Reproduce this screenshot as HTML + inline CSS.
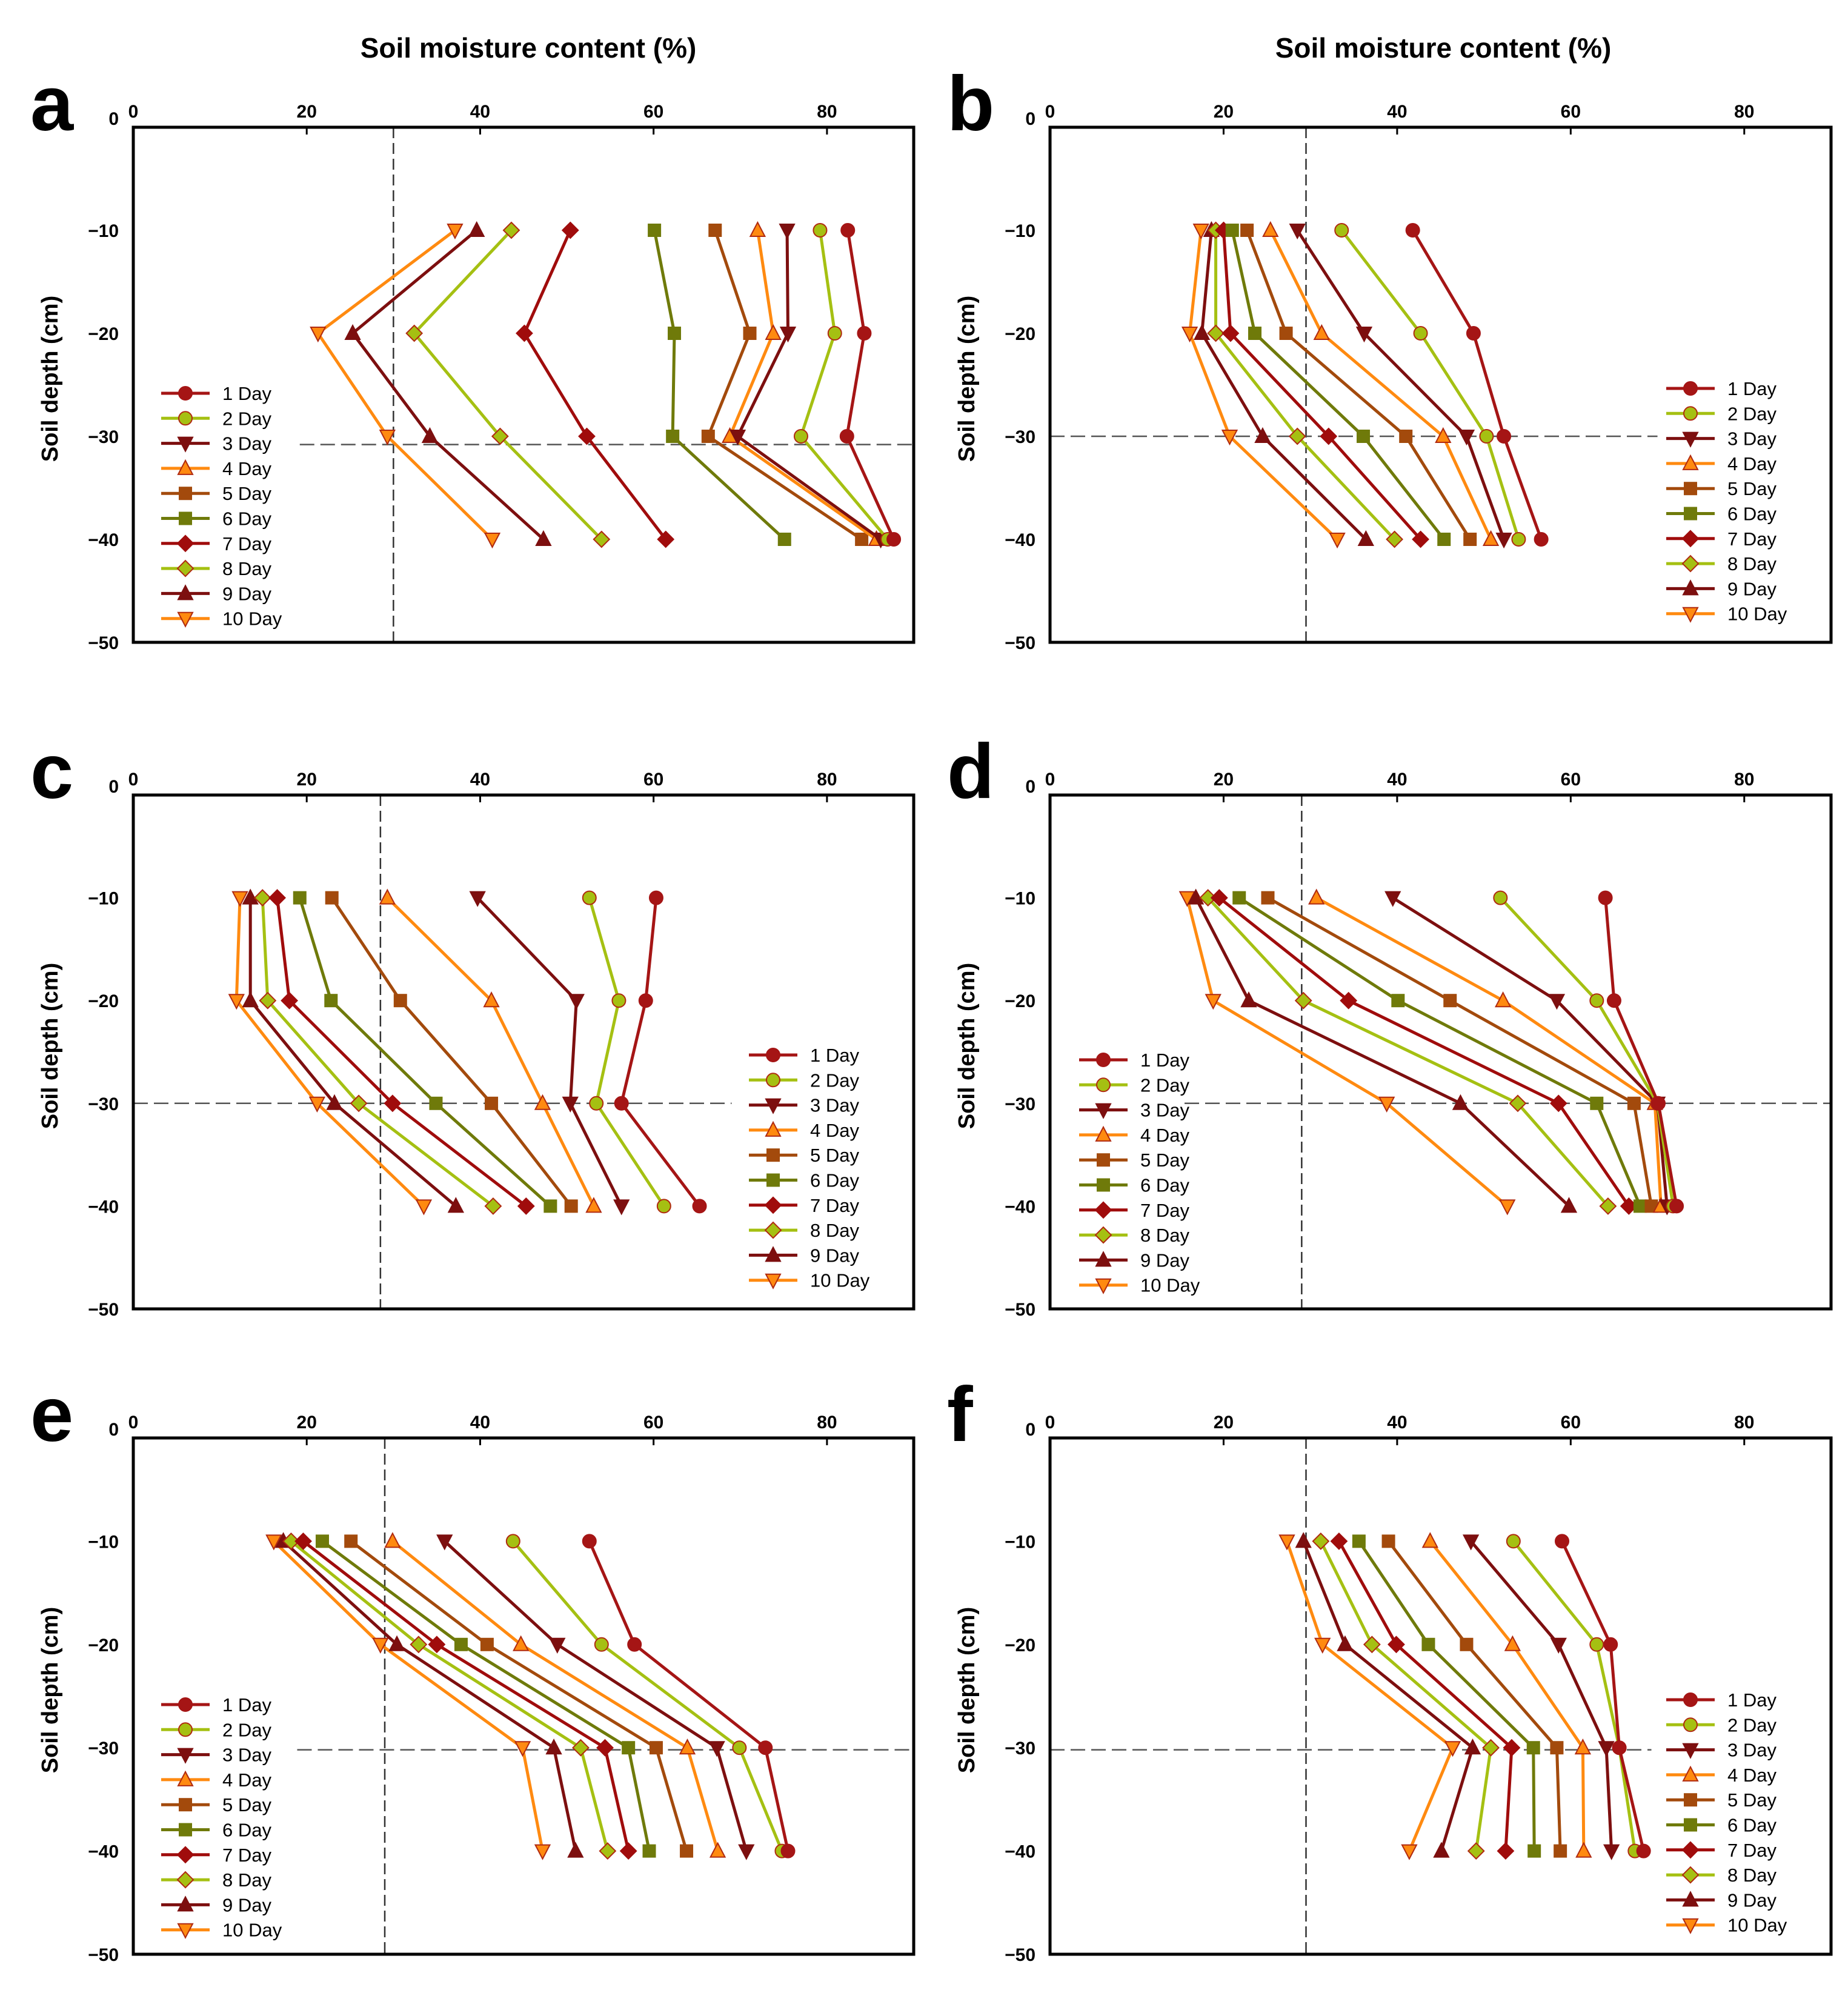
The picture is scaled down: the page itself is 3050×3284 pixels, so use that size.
<!DOCTYPE html>
<html><head><meta charset="utf-8">
<style>
html,body{margin:0;padding:0;background:#fff;}
svg{display:block;}
text{font-family:"Liberation Sans",sans-serif;}
</style></head>
<body>
<svg id="fig" xmlns="http://www.w3.org/2000/svg" width="3050" height="3284" viewBox="0 0 3050 3284">
<rect x="0" y="0" width="3050" height="3284" fill="#fff"/>
<text x="872" y="95" font-size="46" font-weight="bold" text-anchor="middle">Soil moisture content (%)</text>
<text x="2382" y="95" font-size="46" font-weight="bold" text-anchor="middle">Soil moisture content (%)</text>
</svg>
<script>
const depths = [-10, -20, -30, -40];
const seriesNames = ["1 Day","2 Day","3 Day","4 Day","5 Day","6 Day","7 Day","8 Day","9 Day","10 Day"];
const xTicks = [0, 20, 40, 60, 80];
const yTicks = [0, -10, -20, -30, -40, -50];
const panelA = [[82.4,84.3,82.3,87.7],[79.2,80.9,77.0,87.0],[75.4,75.5,69.7,86.2],[72.0,73.8,68.8,85.7],[67.1,71.1,66.3,84.0],[60.1,62.4,62.2,75.1],[50.4,45.1,52.3,61.4],[43.6,32.4,42.3,54.0],[39.6,25.3,34.2,47.3],[37.1,21.3,29.3,41.4]];
const panelB = [[41.8,48.8,52.3,56.6],[33.6,42.7,50.3,54.0],[28.5,36.2,48.0,52.3],[25.4,31.3,45.3,50.8],[22.7,27.2,41.0,48.4],[21.0,23.6,36.1,45.4],[20.0,20.8,32.1,42.7],[19.1,19.1,28.5,39.7],[18.6,17.5,24.5,36.4],[17.4,16.1,20.7,33.1]];
const panelC = [[60.3,59.1,56.3,65.3],[52.6,56.0,53.4,61.2],[39.7,51.1,50.4,56.3],[29.3,41.3,47.2,53.1],[22.9,30.8,41.3,50.5],[19.2,22.8,34.9,48.1],[16.6,18.0,29.9,45.3],[14.9,15.5,26.0,41.5],[13.5,13.5,23.2,37.2],[12.3,11.9,21.2,33.5]];
const panelD = [[64.0,65.0,70.1,72.2],[51.9,63.0,70.0,71.8],[39.5,58.4,70.0,71.1],[30.7,52.2,69.7,70.4],[25.1,46.1,67.3,69.3],[21.8,40.1,63.0,68.0],[19.5,34.4,58.6,66.7],[18.2,29.2,53.9,64.3],[16.8,22.9,47.3,59.8],[15.8,18.8,38.8,52.7]];
const panelE = [[52.6,57.8,72.9,75.5],[43.8,54.0,69.9,74.8],[35.9,48.9,67.3,70.7],[29.9,44.7,63.9,67.4],[25.1,40.8,60.3,63.8],[21.8,37.8,57.1,59.5],[19.6,35.0,54.4,57.1],[18.2,32.9,51.6,54.7],[17.3,30.4,48.5,51.0],[16.2,28.5,44.9,47.2]];
const panelF = [[59.0,64.6,65.6,68.4],[53.4,63.0,65.6,67.4],[48.5,58.6,64.1,64.7],[43.8,53.3,61.4,61.5],[39.0,48.0,58.4,58.8],[35.6,43.6,55.7,55.8],[33.3,39.9,53.2,52.5],[31.2,37.1,50.8,49.1],[29.2,34.0,48.7,45.1],[27.3,31.4,46.4,41.4]];
const refVertical = [30, 29.5, 28.5, 29, 29, 29.5];
const refHorizontal = [-30.8, -30, -30, -30, -30.2, -30.2];

const styles = [
 {c:"#a51515", m:"circle", f:"#a51515"},
 {c:"#a5c012", m:"circle", f:"#a5c012"},
 {c:"#7d0f0f", m:"down", f:"#7d0f0f"},
 {c:"#ff8a10", m:"up", f:"#ff8a10"},
 {c:"#a34a0c", m:"square", f:"#a34a0c"},
 {c:"#6f7a0a", m:"square", f:"#6f7a0a"},
 {c:"#a00c0c", m:"diamond", f:"#a00c0c"},
 {c:"#a5c012", m:"diamond", f:"#a5c012"},
 {c:"#7d0f0f", m:"up", f:"#7d0f0f"},
 {c:"#ff8a10", m:"down", f:"#ff8a10"}
];
const layout = [
 {id:"a", data:panelA, x0:220, x1:1508, y0:210, y1:1060, hx:[19.2,90], leg:[266,649]},
 {id:"b", data:panelB, x0:1733, x1:3022, y0:210, y1:1060, hx:[0,70], leg:[2750,641]},
 {id:"c", data:panelC, x0:220, x1:1508, y0:1312, y1:2160, hx:[0,69], leg:[1236,1741]},
 {id:"d", data:panelD, x0:1733, x1:3022, y0:1312, y1:2160, hx:[15.5,90], leg:[1781,1749]},
 {id:"e", data:panelE, x0:220, x1:1508, y0:2373, y1:3225, hx:[18.9,90], leg:[266,2813]},
 {id:"f", data:panelF, x0:1733, x1:3022, y0:2373, y1:3225, hx:[0,69.3], leg:[2750,2805]}
];
const NS = "http://www.w3.org/2000/svg";
const svg = document.getElementById("fig");
function mk(tag, attrs, parent){
  const e = document.createElementNS(NS, tag);
  for (const k in attrs) e.setAttribute(k, attrs[k]);
  (parent||svg).appendChild(e);
  return e;
}
function marker(g, type, x, y, s, fill, stroke){
  let e;
  const r = 10;
  if (type==="circle") e = mk("circle",{cx:x,cy:y,r:r+1,fill:fill,stroke:stroke,"stroke-width":2},g);
  else if (type==="square") e = mk("rect",{x:x-r,y:y-r,width:2*r,height:2*r,fill:fill,stroke:stroke,"stroke-width":2},g);
  else if (type==="diamond") e = mk("polygon",{points:`${x},${y-13} ${x+13},${y} ${x},${y+13} ${x-13},${y}`,fill:fill,stroke:stroke,"stroke-width":2},g);
  else if (type==="up") e = mk("polygon",{points:`${x},${y-13} ${x+12},${y+10} ${x-12},${y+10}`,fill:fill,stroke:stroke,"stroke-width":2},g);
  else e = mk("polygon",{points:`${x},${y+13} ${x+12},${y-10} ${x-12},${y-10}`,fill:fill,stroke:stroke,"stroke-width":2},g);
  return e;
}
layout.forEach((p, pi) => {
  const sx = v => p.x0 + (v/90)*(p.x1-p.x0);
  const sy = d => p.y0 + (-d/50)*(p.y1-p.y0);
  const g = mk("g",{});
  
  
  const lab = mk("text",{x:p.x0-170, y:p.y0+5, "font-size":128, "font-weight":"bold"}, g);
  lab.textContent = p.id;
  
  
  const yt = mk("text",{x:0,y:0,"font-size":38,"font-weight":"bold","text-anchor":"middle",transform:`translate(${p.x0-125},${(p.y0+p.y1)/2 - 10}) rotate(-90)`}, g);
  yt.textContent = "Soil depth (cm)";
  
  
  xTicks.forEach(t => {
    const tx = mk("text",{x:sx(t), y:p.y0-16, "font-size":30, "font-weight":"bold","text-anchor":"middle"}, g);
    tx.textContent = t;
    
    
    const tk = mk("line",{x1:sx(t),y1:p.y0,x2:sx(t),y2:p.y0+12,stroke:"#000","stroke-width":3}, g);
    
    
  });
  yTicks.forEach(t => {
    const ty = mk("text",{x:p.x0-24, y:sy(t)+(t===0?-4:11), "font-size":30, "font-weight":"bold","text-anchor":"end"}, g);
    ty.textContent = t===0 ? "0" : "\u2212" + Math.abs(t);
    
    
  });
  const vl = mk("line",{x1:sx(refVertical[pi]),y1:p.y0,x2:sx(refVertical[pi]),y2:p.y1,stroke:"#333","stroke-width":2.5,"stroke-dasharray":"18,8"}, g);
  
  
  const hl = mk("line",{x1:sx(p.hx[0]),y1:sy(refHorizontal[pi]),x2:sx(p.hx[1]),y2:sy(refHorizontal[pi]),stroke:"#555","stroke-width":2.5,"stroke-dasharray":"24,10"}, g);
  
  
  for (let s = p.data.length-1; s >= 0; s--) {
    const st = styles[s];
    const pts = p.data[s].map((v,i) => sx(v)+","+sy(depths[i])).join(" ");
    const pl = mk("polyline",{points:pts,fill:"none",stroke:st.c,"stroke-width":5,"stroke-linejoin":"round"}, g);
    
    
    p.data[s].forEach((v,i) => {
      const mm = marker(g, st.m, sx(v), sy(depths[i]), 10, st.f, s===1||s===3||s===7||s===9 ? "#b02a10" : st.c);
      
      
    });
  }
  const box = mk("rect",{x:p.x0,y:p.y0,width:p.x1-p.x0,height:p.y1-p.y0,fill:"none",stroke:"#000","stroke-width":5}, g);
  
  
  const lg = mk("g",{}, g);
  
  
  seriesNames.forEach((n, s) => {
    const st = styles[s];
    const y = p.leg[1] + s*41.3;
    const x = p.leg[0];
    const ll = mk("line",{x1:x,y1:y,x2:x+80,y2:y,stroke:st.c,"stroke-width":5}, lg);
    
    
    const lm = marker(lg, st.m, x+40, y, 10, st.f, s===1||s===3||s===7||s===9 ? "#b02a10" : st.c);
    
    
    const lt = mk("text",{x:x+101,y:y+11,"font-size":31}, lg);
    lt.textContent = n;
    
    
  });
});
</script>
</body></html>
